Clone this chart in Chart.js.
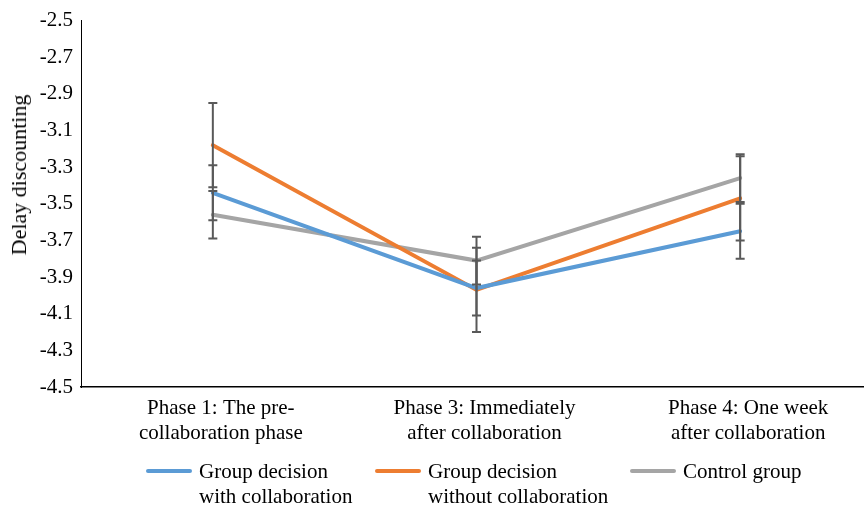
<!DOCTYPE html>
<html>
<head>
<meta charset="utf-8">
<script src="https://cdn.jsdelivr.net/npm/chart.js@4"></script>
<style>
  html, body { margin: 0; padding: 0; background: #fff; overflow: hidden; }
  #wrap { position: relative; width: 872px; height: 509px; }
  #chart { position: absolute; left: 0; top: 0; }
  .serif { font-family: "Liberation Serif", "Times New Roman", serif; color: #000; }
  #ytitle { position: absolute; left: 19px; top: 175px; font-size: 22px; white-space: nowrap;
            transform: translate(-50%, -50%) rotate(-90deg); }
  .leg { position: absolute; top: 459px; font-size: 21px; line-height: 25px; white-space: nowrap; }
  .sw { position: absolute; top: 469px; width: 46px; height: 4px; border-radius: 2px; }
</style>
</head>
<body>
<div id="wrap">
  <canvas id="chart" width="872" height="509"></canvas>
  <div id="ytitle" class="serif">Delay discounting</div>
  <div class="sw" style="left:146px;background:#5B9BD5"></div>
  <div class="leg serif" style="left:199px">Group decision<br>with collaboration</div>
  <div class="sw" style="left:375px;background:#ED7D31"></div>
  <div class="leg serif" style="left:428px">Group decision<br>without collaboration</div>
  <div class="sw" style="left:630px;background:#A5A5A5"></div>
  <div class="leg serif" style="left:683px">Control group</div>
</div>
<script>
// categories (two-line labels)
const phases = [
  ['Phase 1: The pre-', 'collaboration phase'],
  ['Phase 3: Immediately', 'after collaboration'],
  ['Phase 4: One week', 'after collaboration']
];

// mean delay discounting per phase
const withCollab = [-3.44, -3.96, -3.65];
const withoutCollab = [-3.18, -3.97, -3.47];
const control = [-3.56, -3.81, -3.36];

// error bar half-lengths
const errWith = [0.15, 0.15, 0.15];
const errWithout = [0.23, 0.23, 0.23];
const errControl = [0.13, 0.13, 0.13];

// y axis range
const yMin = -4.5, yMax = -2.5, yStep = 0.2;

const FONT = '"Liberation Serif", "Times New Roman", serif';

// draws vertical error bars with caps using the chart's scales
const errorBars = {
  id: 'errorBars',
  afterDatasetsDraw(chart) {
    const { ctx, scales: { x, y } } = chart;
    ctx.save();
    ctx.strokeStyle = '#595959';
    ctx.lineWidth = 2;
    chart.data.datasets.forEach(ds => {
      ds.data.forEach((v, i) => {
        const e = ds.errors[i];
        const px = x.getPixelForValue(i);
        const top = y.getPixelForValue(v + e);
        const bot = y.getPixelForValue(v - e);
        ctx.beginPath();
        ctx.moveTo(px, top); ctx.lineTo(px, bot);
        ctx.moveTo(px - 4.5, top); ctx.lineTo(px + 4.5, top);
        ctx.moveTo(px - 4.5, bot); ctx.lineTo(px + 4.5, bot);
        ctx.stroke();
      });
    });
    ctx.restore();
  }
};

function series(label, data, errors, color) {
  return {
    label, data, errors,
    borderColor: color,
    backgroundColor: color,
    borderWidth: 4,
    borderCapStyle: 'round',
    pointRadius: 0,
    tension: 0,
    fill: false
  };
}

new Chart(document.getElementById('chart'), {
  type: 'line',
  data: {
    labels: phases,
    datasets: [
      series('Group decision with collaboration', withCollab, errWith, '#5B9BD5'),
      series('Group decision without collaboration', withoutCollab, errWithout, '#ED7D31'),
      series('Control group', control, errControl, '#A5A5A5')
    ]
  },
  options: {
    responsive: false,
    animation: false,
    layout: { padding: { top: 18, left: 0, right: 0, bottom: 0 } },
    plugins: { legend: { display: false }, tooltip: { enabled: false } },
    scales: {
      x: {
        offset: true,
        grid: { display: false, drawTicks: false },
        border: { display: true, color: '#000', width: 1.5 },
        ticks: {
          color: '#000',
          font: { family: FONT, size: 21 },
          padding: 9,
          labelOffset: 8,
          maxRotation: 0,
          autoSkip: false
        },
        afterFit(scale) { scale.height = 122; }
      },
      y: {
        min: yMin,
        max: yMax,
        grid: { display: false, drawTicks: false },
        border: { display: true, color: '#000', width: 1 },
        ticks: {
          stepSize: yStep,
          color: '#000',
          font: { family: FONT, size: 21 },
          padding: 8,
          callback: v => v.toFixed(1)
        },
        afterFit(scale) { scale.width = 81; }
      }
    }
  },
  plugins: [errorBars]
});
</script>
</body>
</html>
